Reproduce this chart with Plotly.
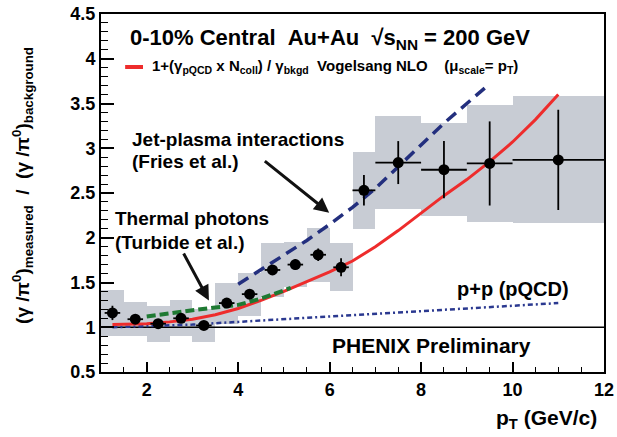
import plotly.graph_objects as go

# ---- data ----
pt = [1.25, 1.75, 2.25, 2.75, 3.25, 3.75, 4.25, 4.75, 5.25, 5.75, 6.25, 6.75, 7.5, 8.5, 9.5, 11.0]
ratio = [1.16, 1.09, 1.04, 1.10, 1.02, 1.27, 1.37, 1.64, 1.70, 1.81, 1.67, 2.53, 2.84, 2.76, 2.83, 2.87]
stat_err = [0.08, 0.04, 0.03, 0.05, 0.04, 0.04, 0.05, 0.05, 0.06, 0.07, 0.10, 0.17, 0.24, 0.32, 0.47, 0.56]
pt_err = [0.17, 0.17, 0.17, 0.17, 0.17, 0.17, 0.17, 0.17, 0.17, 0.17, 0.17, 0.25, 0.5, 0.5, 0.5, 1.0]
sys_err = [0.26, 0.19, 0.20, 0.20, 0.18, 0.23, 0.24, 0.30, 0.25, 0.30, 0.27, 0.43, 0.52, 0.52, 0.65, 0.71]
bin_width = [0.5, 0.5, 0.5, 0.5, 0.5, 0.5, 0.5, 0.5, 0.5, 0.5, 0.5, 0.5, 1.0, 1.0, 1.0, 2.0]

nlo_pt = [1.25, 2.0, 2.5, 3.0, 3.5, 4.0, 4.5, 5.0, 5.5, 6.0, 6.5, 7.0, 7.5, 8.0, 8.5, 9.0, 9.5, 10.0, 10.5, 11.0]
nlo_val = [1.03, 1.04, 1.06, 1.09, 1.14, 1.21, 1.30, 1.40, 1.51, 1.62, 1.74, 1.90, 2.08, 2.28, 2.47, 2.65, 2.85, 3.07, 3.32, 3.60]

jet_pt = [4.0, 4.5, 5.0, 5.5, 6.0, 6.5, 7.0, 7.5, 8.0, 8.5, 9.0, 9.5]
jet_val = [1.48, 1.64, 1.80, 1.97, 2.15, 2.34, 2.55, 2.79, 3.03, 3.28, 3.50, 3.72]

therm_pt = [2.0, 2.5, 3.0, 3.5, 4.0, 4.5, 5.0, 5.15]
therm_val = [1.12, 1.16, 1.19, 1.22, 1.25, 1.32, 1.41, 1.44]

pp_pt = [1.25, 2.0, 3.0, 4.0, 5.0, 6.0, 7.0, 8.0, 9.0, 10.0, 11.0]
pp_val = [1.00, 1.01, 1.03, 1.06, 1.09, 1.12, 1.15, 1.18, 1.21, 1.24, 1.27]

x_ticks = [2, 4, 6, 8, 10, 12]
y_ticks = [0.5, 1, 1.5, 2, 2.5, 3, 3.5, 4, 4.5]
y_tick_text = ["0.5", "1", "1.5", "2", "2.5", "3", "3.5", "4", "4.5"]
unity = [1.0, 1.0]
x_span = [1, 12]

FONT = "Liberation Sans, Arial, sans-serif"

fig = go.Figure()

# systematic boxes
fig.add_trace(go.Bar(
    x=pt, y=[2 * s for s in sys_err], base=[r - s for r, s in zip(ratio, sys_err)],
    width=bin_width, marker=dict(color="#c8ccd4", line=dict(width=0)),
    showlegend=False, hoverinfo="skip"))

# unity line
fig.add_trace(go.Scatter(x=x_span, y=unity, mode="lines",
                         line=dict(color="black", width=1.5), showlegend=False))

# p+p pQCD
fig.add_trace(go.Scatter(x=pp_pt, y=pp_val, mode="lines",
                         line=dict(color="#2b3990", width=2.5, dash="5px,3px,2px,3px"),
                         showlegend=False))
# NLO red
fig.add_trace(go.Scatter(x=nlo_pt, y=nlo_val, mode="lines",
                         line=dict(color="#ee2c2c", width=3), showlegend=False))
# jet-plasma
fig.add_trace(go.Scatter(x=jet_pt, y=jet_val, mode="lines",
                         line=dict(color="#232f7e", width=3.5, dash="12px,7px"),
                         showlegend=False))
# thermal
fig.add_trace(go.Scatter(x=therm_pt, y=therm_val, mode="lines",
                         line=dict(color="#1f7a33", width=4, dash="9px,4px"),
                         showlegend=False))

# data points
fig.add_trace(go.Scatter(
    x=pt, y=ratio, mode="markers",
    marker=dict(color="black", size=11),
    error_y=dict(type="data", array=stat_err, color="black", thickness=1.8, width=0),
    error_x=dict(type="data", array=pt_err, color="black", thickness=1.8, width=0),
    showlegend=False))

bold = dict(family=FONT, color="black", weight="bold")

annotations = [
    dict(x=1.59, y=4.22, xref="x", yref="y", xanchor="left", yanchor="middle", showarrow=False,
         text="0-10% Central\u00a0\u00a0Au+Au\u00a0\u00a0√s<sub>NN</sub> = 200 GeV",
         font=dict(size=22, **bold)),
    dict(x=2.07, y=3.91, xref="x", yref="y", xanchor="left", yanchor="middle", showarrow=False,
         text="1+(γ<sub>pQCD</sub> x N<sub>coll</sub>) / γ<sub>bkgd</sub>\u00a0\u00a0Vogelsang NLO\u00a0\u00a0\u00a0\u00a0(μ<sub>scale</sub>= p<sub>T</sub>)",
         font=dict(size=15, **bold)),
    dict(x=1.63, y=3.10, xref="x", yref="y", xanchor="left", yanchor="middle", showarrow=False,
         text="Jet-plasma interactions", font=dict(size=19, **bold)),
    dict(x=1.63, y=2.85, xref="x", yref="y", xanchor="left", yanchor="middle", showarrow=False,
         text="(Fries et al.)", font=dict(size=19, **bold)),
    dict(x=1.26, y=2.21, xref="x", yref="y", xanchor="left", yanchor="middle", showarrow=False,
         text="Thermal photons", font=dict(size=19, **bold)),
    dict(x=1.26, y=1.95, xref="x", yref="y", xanchor="left", yanchor="middle", showarrow=False,
         text="(Turbide et al.)", font=dict(size=19, **bold)),
    dict(x=8.75, y=1.43, xref="x", yref="y", xanchor="left", yanchor="middle", showarrow=False,
         text="p+p (pQCD)", font=dict(size=20, **bold)),
    dict(x=6.01, y=0.80, xref="x", yref="y", xanchor="left", yanchor="middle", showarrow=False,
         text="PHENIX Preliminary", font=dict(size=21, **bold)),
    # arrows
    dict(x=5.99, y=2.28, ax=4.55, ay=2.87, xref="x", yref="y", axref="x", ayref="y",
         showarrow=True, arrowhead=2, arrowsize=1, arrowwidth=3, arrowcolor="#111111", text=""),
    dict(x=3.36, y=1.30, ax=2.79, ay=1.84, xref="x", yref="y", axref="x", ayref="y",
         showarrow=True, arrowhead=2, arrowsize=1, arrowwidth=3, arrowcolor="#111111", text=""),
    # axis titles
    dict(x=0.99, y=-0.13, xref="paper", yref="paper", xanchor="right", yanchor="middle", showarrow=False,
         text="p<sub>T</sub> (GeV/c)", font=dict(size=21, **bold)),
    dict(x=-0.155, y=0.52, xref="paper", yref="paper", xanchor="center", yanchor="middle",
         showarrow=False, textangle=-90,
         text="(γ /π<sup>0</sup>)<sub>measured</sub>\u00a0\u00a0/\u00a0\u00a0(γ /π<sup>0</sup>)<sub>background</sub>",
         font=dict(size=19, **bold)),
]

shapes = [
    dict(type="line", xref="paper", yref="paper", x0=0.048, x1=0.0835, y0=0.852, y1=0.852,
         line=dict(color="#ee2c2c", width=4)),
]

fig.update_layout(
    width=617, height=437,
    margin=dict(l=101, r=13, t=14, b=65, autoexpand=False),
    paper_bgcolor="white", plot_bgcolor="white",
    barmode="overlay", bargap=0,
    annotations=annotations, shapes=shapes,
    xaxis=dict(range=[1, 12], tickvals=x_ticks, ticks="inside", ticklen=10, tickwidth=1.5,
               tickcolor="black", showline=True, linewidth=2, linecolor="black", mirror=True,
               showgrid=False, zeroline=False, automargin=False,
               tickfont=dict(size=18, **bold),
               minor=dict(dtick=0.5, tick0=1, ticks="inside", ticklen=5, tickwidth=1.2, tickcolor="black")),
    yaxis=dict(range=[0.5, 4.5], tickvals=y_ticks, ticktext=y_tick_text,
               ticks="inside", ticklen=13, tickwidth=1.5,
               tickcolor="black", showline=True, linewidth=2, linecolor="black", mirror=True,
               showgrid=False, zeroline=False, automargin=False,
               tickfont=dict(size=18, **bold),
               minor=dict(dtick=0.1, tick0=0.5, ticks="inside", ticklen=7, tickwidth=1.2, tickcolor="black")),
)

fig.write_html("out.html")
